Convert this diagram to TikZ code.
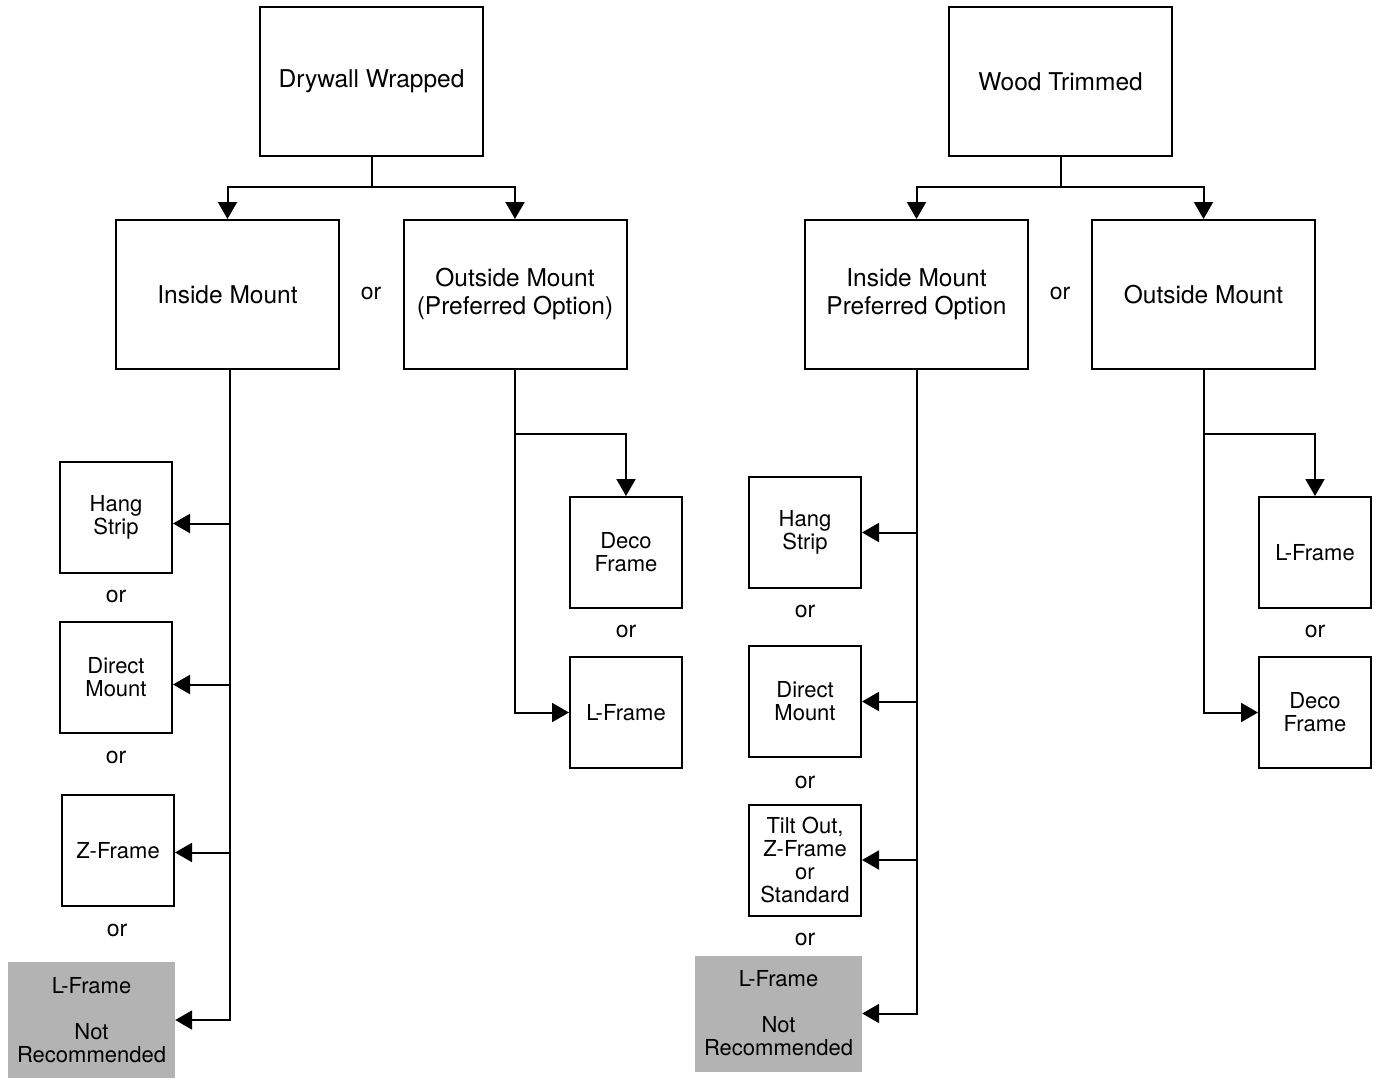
\documentclass[tikz,border=0pt]{standalone}
\usepackage{fontspec}
\setmainfont{TeX Gyre Heros}
\usetikzlibrary{arrows.meta}
\definecolor{notrec}{HTML}{B3B3B3}
\begin{document}
\begin{tikzpicture}[x=1pt,y=-1pt,
    bigbox/.style={draw,line width=2pt,minimum width=223pt,minimum height=149pt,
      inner sep=0pt,align=center,font=\fontsize{24.5}{28}\selectfont},
    smallbox/.style={draw,line width=2pt,minimum width=112pt,minimum height=111pt,
      inner sep=0pt,align=center,font=\fontsize{22}{23}\selectfont},
    greybox/.style={fill=notrec,minimum width=167pt,minimum height=116pt,
      inner sep=0pt,align=center,font=\fontsize{22}{23}\selectfont},
    ortext/.style={font=\fontsize{23}{24}\selectfont},
    >={Triangle[length=17pt,width=19pt]}]
  \useasboundingbox (0,0) rectangle (1380,1078);
  % drywall wrapped
  \node[bigbox] (dw) at (371.5,81.5) {Drywall Wrapped};
  \node[bigbox] (im1) at (227.5,294.5) {Inside Mount};
  \node[ortext] (or1) at (371,293) {or};
  \node[bigbox] (om1) at (515,294.5) {Outside Mount\\(Preferred Option)};
  \node[smallbox] (hs1) at (116,517.5) {Hang\\Strip};
  \node[ortext] (or2) at (116,596) {or};
  \node[smallbox] (dm1) at (116,677.5) {Direct\\Mount};
  \node[ortext] (or3) at (116,757) {or};
  \node[smallbox] (zf1) at (118,850.5) {Z-Frame};
  \node[ortext] (or4) at (117,930) {or};
  \node[greybox] (lf1) at (91.5,1020) {L-Frame\\[23pt]Not\\Recommended};
  \node[smallbox] (df1) at (626,552.5) {Deco\\Frame};
  \node[ortext] (or5) at (626,631) {or};
  \node[smallbox] (lf2) at (626,712.5) {L-Frame};
  % wood trimmed
  \node[bigbox] (wt) at (1060.5,81.5) {Wood Trimmed};
  \node[bigbox] (im2) at (916.5,294.5) {Inside Mount\\Preferred Option};
  \node[ortext] (or6) at (1060,293) {or};
  \node[bigbox] (om2) at (1203.5,294.5) {Outside Mount};
  \node[smallbox] (hs2) at (805,532.5) {Hang\\Strip};
  \node[ortext] (or7) at (805,611) {or};
  \node[smallbox] (dm2) at (805,701.5) {Direct\\Mount};
  \node[ortext] (or8) at (805,782) {or};
  \node[smallbox] (to2) at (805,860) {Tilt Out,\\Z-Frame\\or\\Standard};
  \node[ortext] (or9) at (805,939) {or};
  \node[greybox] (lf3) at (778.5,1013.5) {L-Frame\\[23pt]Not\\Recommended};
  \node[smallbox] (lf4) at (1315,552.5) {L-Frame};
  \node[ortext] (or10) at (1315,631) {or};
  \node[smallbox] (df2) at (1315,712.5) {Deco\\Frame};
  \begin{scope}[line width=2pt,->]
    \draw[-] (dw.south) -- ++(0,30) coordinate (dwj);
    \draw (dwj) -| (im1.north);
    \draw (dwj) -| (om1.north);
    \draw ([xshift=2pt]im1.south) |- (lf1.east);
    \draw ([xshift=2pt]im1.south |- hs1.east) ++(0,6) -- ([yshift=-6pt]hs1.east);
    \draw ([xshift=2pt]im1.south |- dm1.east) ++(0,7) -- ([yshift=-7pt]dm1.east);
    \draw ([xshift=2pt]im1.south |- zf1.east) ++(0,2) -- ([yshift=-2pt]zf1.east);
    \draw (om1.south) |- (lf2.west);
    \draw (om1.south) ++(0,64) -| (df1.north);
    \draw[-] (wt.south) -- ++(0,30) coordinate (wtj);
    \draw (wtj) -| (im2.north);
    \draw (wtj) -| (om2.north);
    \draw (im2.south) |- (lf3.east);
    \draw (im2.south |- hs2.east) -- (hs2.east);
    \draw (im2.south |- dm2.east) -- (dm2.east);
    \draw (im2.south |- to2.east) -- (to2.east);
    \draw (om2.south) |- (df2.west);
    \draw (om2.south) ++(0,64) -| (lf4.north);
  \end{scope}
\end{tikzpicture}
\end{document}
